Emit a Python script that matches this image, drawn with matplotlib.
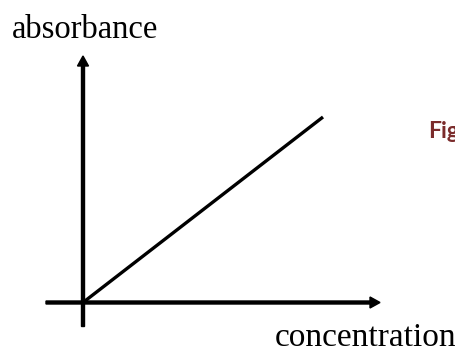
import matplotlib.pyplot as plt

# linear Beer-Lambert sketch: absorbance vs concentration
concentration = [0.0, 2.4]
absorbance = [0.0, 1.855]

fig = plt.figure(figsize=(4.55, 3.49), dpi=100)
ax = fig.add_axes([0, 0, 1, 1])
ax.set_xlim(-0.83, 3.72)
ax.set_ylim(-0.465, 3.025)
ax.axis('off')

# axes with arrow heads
ax.arrow(-0.37, 0, 3.34, 0, width=0.03, head_width=0.11, head_length=0.1,
         length_includes_head=True, color='black')
ax.arrow(0, -0.24, 0, 2.705, width=0.03, head_width=0.11, head_length=0.1,
         length_includes_head=True, color='black')

ax.plot(concentration, absorbance, color='black', lw=2.4, solid_capstyle='butt')

ax.text(-0.71, 2.645, 'absorbance', family='Liberation Serif', fontsize=23.5,
        va='baseline', ha='left')
ax.text(1.92, -0.44, 'concentration', family='Liberation Serif', fontsize=24,
        va='baseline', ha='left')
ax.text(3.45, 1.645, 'Fig', family='Lato', fontweight='bold', fontsize=16.5,
        color='#7b2c2c', va='baseline', ha='left')

fig.savefig('out.png', dpi=100)
